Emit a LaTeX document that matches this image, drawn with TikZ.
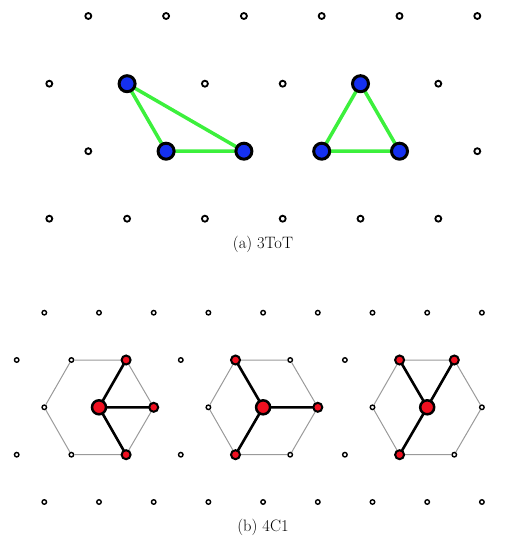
\documentclass[tikz,border=0pt]{standalone}
\usetikzlibrary{positioning}
\definecolor{cblue}{HTML}{1530F0}
\definecolor{cgreen}{HTML}{3CF03C}
\definecolor{cred}{HTML}{F01020}
\definecolor{cgrey}{HTML}{9A9A9A}
\tikzset{
  site/.style={circle, draw=black, fill=white, line width=1.8pt, minimum size=6pt, inner sep=0pt},
  smallsite/.style={site, line width=1.4pt, minimum size=4.5pt},
  blueatom/.style={circle, draw=black, fill=cblue, line width=3pt, minimum size=16pt, inner sep=0pt},
  redatom/.style={circle, draw=black, fill=cred, line width=2pt, minimum size=9pt, inner sep=0pt},
  redcentre/.style={redatom, line width=2.5pt, minimum size=14pt},
  greenbond/.style={draw=cgreen, line width=3.5pt},
  blackbond/.style={draw=black, line width=2.6pt},
  hexline/.style={draw=cgrey, line width=1pt},
  caption/.style={font=\fontsize{16.5}{19}\selectfont},
}

\begin{document}
\begin{tikzpicture}[x=1pt, y=-1pt]
  \useasboundingbox (0,0) rectangle (506,538);
  % (a) lattice
  \foreach \r/\y/\xo in {1/16/88.3, 2/83.7/49.3, 3/151.2/88.3, 4/218.7/49.3}
    \foreach \c in {0,...,5} \node[site] (a-\r-\c) at ({\xo+\c*77.8},\y) {};
  \draw[greenbond] (a-2-1) -- (a-3-1) -- (a-3-2) -- (a-2-1);
  \draw[greenbond] (a-2-4) -- (a-3-3) -- (a-3-4) -- (a-2-4);
  \foreach \s in {2-1, 3-1, 3-2, 2-4, 3-3, 3-4} \node[blueatom] (blue-\s) at (a-\s) {};
  \node[caption] (capa) at (263,244) {(a) 3ToT};
  % (b) lattice
  \foreach \r/\y/\xo in {1/312.7/44.3, 2/360/16.7, 3/407.3/44.3, 4/454.7/16.7, 5/502/44.3}
    \foreach \c in {0,...,8} \node[smallsite] (b-\r-\c) at ({\xo+\c*54.7},\y) {};
  % hexagons
  \draw[hexline] (b-2-1) -- (b-2-2) -- (b-3-2) -- (b-4-2) -- (b-4-1) -- (b-3-0) -- (b-2-1);
  \draw[hexline] (b-2-4) -- (b-2-5) -- (b-3-5) -- (b-4-5) -- (b-4-4) -- (b-3-3) -- (b-2-4);
  \draw[hexline] (b-2-7) -- (b-2-8) -- (b-3-8) -- (b-4-8) -- (b-4-7) -- (b-3-6) -- (b-2-7);
  \draw[blackbond] (b-3-1) -- (b-2-2) (b-3-1) -- (b-3-2) (b-3-1) -- (b-4-2);
  \draw[blackbond] (b-3-4) -- (b-2-4) (b-3-4) -- (b-3-5) (b-3-4) -- (b-4-4);
  \draw[blackbond] (b-3-7) -- (b-2-7) (b-3-7) -- (b-2-8) (b-3-7) -- (b-4-7);
  \foreach \s in {2-2, 3-2, 4-2, 2-4, 3-5, 4-4, 2-7, 2-8, 4-7} \node[redatom] (red-\s) at (b-\s) {};
  \foreach \s in {3-1, 3-4, 3-7} \node[redcentre] (centre-\s) at (b-\s) {};
  \node[caption] (capb) at (263,527) {(b) 4C1};
\end{tikzpicture}
\end{document}
